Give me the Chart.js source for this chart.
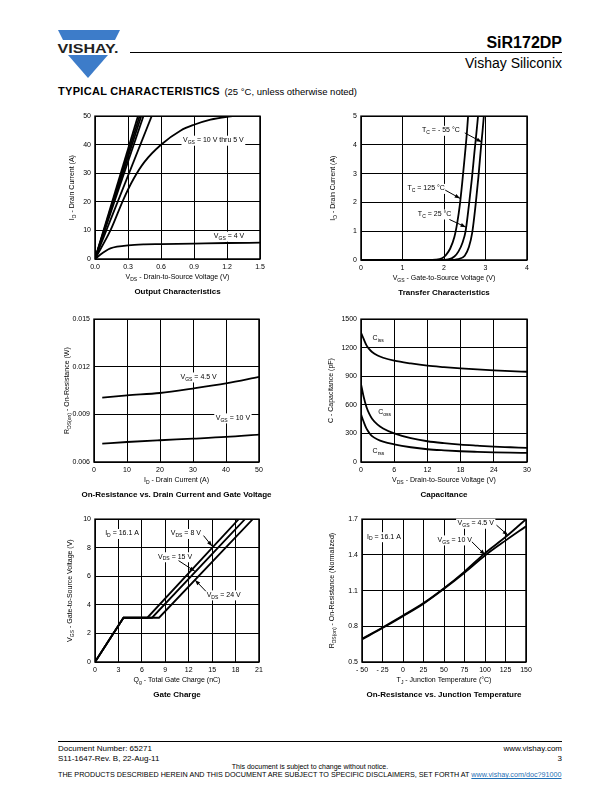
<!DOCTYPE html>
<html><head><meta charset="utf-8">
<script src="https://cdn.jsdelivr.net/npm/chart.js@4.4.1/dist/chart.umd.min.js"></script>
<style>
body{margin:0;width:612px;height:792px;position:relative;background:#fff;font-family:"Liberation Sans",Arial,Helvetica,sans-serif;overflow:hidden;color:#000}
.a{position:absolute;white-space:nowrap}
canvas{position:absolute}
</style></head><body>
<svg class="a" style="left:55px;top:28px" width="68" height="52" viewBox="0 0 68 52">
  <polygon points="3,2 65,2 60,12 8,12" fill="#3d7cc9"/>
  <text x="33" y="24.5" text-anchor="middle" font-family="Liberation Sans, Arial" font-weight="bold" font-size="13.5" textLength="61" lengthAdjust="spacingAndGlyphs" fill="#222">VISHAY.</text>
  <polygon points="13,27 53,27 33,50" fill="#3d7cc9"/>
</svg>
<div class="a" style="left:130px;top:52px;width:432px;height:1px;background:#000"></div>
<div class="a" style="right:50px;top:35px;font-size:16px;line-height:16px;font-weight:bold">SiR172DP</div>
<div class="a" style="right:50px;top:55.5px;font-size:14px;line-height:14px">Vishay Siliconix</div>
<div class="a" style="left:58px;top:84px;line-height:11px"><span style="font-size:11px;font-weight:bold;letter-spacing:0.3px">TYPICAL CHARACTERISTICS</span> <span style="font-size:9.5px">(25 °C, unless otherwise noted)</span></div>

<div class="a" style="left:58px;top:741px;width:504px;height:1px;background:#000"></div>
<div class="a" style="left:58px;top:745px;font-size:8px;line-height:8px">Document Number: 65271</div>
<div class="a" style="right:50px;top:745px;font-size:8px;line-height:8px">www.vishay.com</div>
<div class="a" style="left:58px;top:754.5px;font-size:8px;line-height:8px">S11-1647-Rev. B, 22-Aug-11</div>
<div class="a" style="right:50px;top:754.5px;font-size:8px;line-height:8px">3</div>
<div class="a" style="left:230px;width:160px;text-align:center;top:762.5px;font-size:7px;line-height:7px">This document is subject to change without notice.</div>
<div class="a" id="disc" style="left:58px;top:771px;font-size:7.2px;line-height:7px">THE PRODUCTS DESCRIBED HEREIN AND THIS DOCUMENT ARE SUBJECT TO SPECIFIC DISCLAIMERS, SET FORTH AT <span style="color:#1f6fb5;text-decoration:underline">www.vishay.com/doc?91000</span></div>

<script>
const FONT = '"Liberation Sans", Arial, Helvetica, sans-serif';

// ---------- Output Characteristics ----------
const outXTicks = [0, 0.3, 0.6, 0.9, 1.2, 1.5];
const outXLabels = ['0.0', '0.3', '0.6', '0.9', '1.2', '1.5'];
const outYTicks = [0, 10, 20, 30, 40, 50];
const outYLabels = ['0', '10', '20', '30', '40', '50'];
const outVgs10 = [[0, 0], [0.39, 50]];
const outVgs9 = [[0, 0], [0.405, 50]];
const outVgs8 = [[0, 0], [0.42, 50]];
const outVgs7 = [[0, 0], [0.44, 50]];
const outVgs6 = [[0, 0], [0.515, 50]];
const outVgs5 = [[0, 0], [0.14, 10], [0.26, 21], [0.35, 28], [0.45, 34], [0.6, 40], [0.78, 45], [0.9, 47], [1.05, 48.8], [1.2, 49.8], [1.25, 50]];
const outVgs4 = [[0, 0], [0.05, 1.6], [0.1, 2.9], [0.14, 3.7], [0.2, 4.3], [0.3, 4.8], [0.45, 5.1], [0.6, 5.2], [0.9, 5.4], [1.2, 5.6], [1.5, 5.7]];

// ---------- Transfer Characteristics ----------
const trXTicks = [0, 1, 2, 3, 4];
const trXLabels = ['0', '1', '2', '3', '4'];
const trYTicks = [0, 1, 2, 3, 4, 5];
const trYLabels = ['0', '1', '2', '3', '4', '5'];
const trTc125 = [[0, 0], [1.6, 0], [1.8, 0.01], [1.95, 0.06], [2.05, 0.18], [2.15, 0.4], [2.25, 0.8], [2.32, 1.3], [2.38, 1.9], [2.44, 2.7], [2.5, 3.6], [2.55, 4.4], [2.58, 5]];
const trTc25 = [[0, 0], [1.9, 0], [2.1, 0.02], [2.25, 0.12], [2.35, 0.3], [2.45, 0.62], [2.52, 1.0], [2.6, 1.9], [2.67, 2.8], [2.73, 3.7], [2.78, 4.4], [2.82, 5]];
const trTcM55 = [[0, 0], [2.1, 0], [2.35, 0.03], [2.5, 0.15], [2.6, 0.45], [2.68, 0.95], [2.76, 1.9], [2.83, 2.9], [2.89, 3.9], [2.93, 4.5], [2.96, 5]];

// ---------- On-Resistance vs. Drain Current ----------
const rdsXTicks = [0, 10, 20, 30, 40, 50];
const rdsXLabels = ['0', '10', '20', '30', '40', '50'];
const rdsYTicks = [0.006, 0.009, 0.012, 0.015];
const rdsYLabels = ['0.006', '0.009', '0.012', '0.015'];
const rdsId = [2.5, 10, 20, 30, 40, 50];
const rdsVgs45 = [0.01006, 0.0102, 0.01035, 0.01063, 0.01095, 0.01136];
const rdsVgs10 = [0.00716, 0.00726, 0.00737, 0.00747, 0.00758, 0.00773];

// ---------- Capacitance ----------
const capXTicks = [0, 6, 12, 18, 24, 30];
const capXLabels = ['0', '6', '12', '18', '24', '30'];
const capYTicks = [0, 300, 600, 900, 1200, 1500];
const capYLabels = ['0', '300', '600', '900', '1200', '1500'];
const capVds = [0, 0.5, 1, 1.5, 2, 3, 4, 6, 9, 12, 15, 18, 21, 24, 27, 30];
const capCiss = [1360, 1290, 1225, 1185, 1155, 1118, 1095, 1064, 1035, 1012, 997, 984, 973, 963, 955, 948];
const capCoss = [820, 680, 575, 505, 455, 392, 352, 300, 250, 218, 198, 183, 172, 162, 155, 148];
const capCrss = [500, 420, 350, 305, 272, 236, 213, 185, 155, 134, 122, 113, 107, 102, 98, 95];

// ---------- Gate Charge ----------
const gcXTicks = [0, 3, 6, 9, 12, 15, 18, 21];
const gcXLabels = ['0', '3', '6', '9', '12', '15', '18', '21'];
const gcYTicks = [0, 2, 4, 6, 8, 10];
const gcYLabels = ['0', '2', '4', '6', '8', '10'];
const gcVds8 = [[0, 0], [3.65, 3.1], [6.7, 3.1], [18.4, 10]];
const gcVds15 = [[0, 0], [3.65, 3.1], [7.3, 3.1], [19.2, 10]];
const gcVds24 = [[0, 0], [3.65, 3.1], [8.2, 3.1], [20.2, 10]];

// ---------- On-Resistance vs. Junction Temperature ----------
const tjXTicks = [-50, -25, 0, 25, 50, 75, 100, 125, 150];
const tjXLabels = ['- 50', '- 25', '0', '25', '50', '75', '100', '125', '150'];
const tjYTicks = [0.5, 0.8, 1.1, 1.4, 1.7];
const tjYLabels = ['0.5', '0.8', '1.1', '1.4', '1.7'];
const tjTemp = [-50, -25, 0, 25, 50, 75, 100, 125, 150];
const tjVgs45 = [0.695, 0.79, 0.89, 0.995, 1.12, 1.26, 1.415, 1.55, 1.70];
const tjVgs10 = [0.69, 0.785, 0.885, 0.99, 1.115, 1.25, 1.395, 1.52, 1.64];

// ---------- helpers ----------
function pairs(p) { return p.map(([x, y]) => ({x, y})); }
function zipXY(xs, ys) { return xs.map((x, i) => ({x, y: ys[i]})); }

function richWidth(ctx, parts, size, bold) {
  let w = 0;
  for (const [t, sub] of parts) {
    ctx.font = (bold ? 'bold ' : '') + (sub ? size * 0.72 : size) + 'px ' + FONT;
    w += ctx.measureText(t).width;
  }
  return w;
}
function drawRich(ctx, parts, x, y, size, align, bold) {
  const w = richWidth(ctx, parts, size, bold);
  let cx = align === 'center' ? x - w / 2 : align === 'right' ? x - w : x;
  ctx.textAlign = 'left';
  ctx.textBaseline = 'middle';
  for (const [t, sub] of parts) {
    ctx.font = (bold ? 'bold ' : '') + (sub ? size * 0.72 : size) + 'px ' + FONT;
    ctx.fillText(t, cx, y + (sub ? size * 0.32 : 0));
    cx += ctx.measureText(t).width;
  }
  return w;
}
function drawArrow(ctx, x1, y1, x2, y2) {
  ctx.beginPath(); ctx.moveTo(x1, y1); ctx.lineTo(x2, y2);
  ctx.lineWidth = 1; ctx.strokeStyle = '#000'; ctx.stroke();
  const a = Math.atan2(y2 - y1, x2 - x1), L = 5.5, W = 2;
  ctx.beginPath(); ctx.moveTo(x2, y2);
  ctx.lineTo(x2 - L * Math.cos(a) + W * Math.sin(a), y2 - L * Math.sin(a) - W * Math.cos(a));
  ctx.lineTo(x2 - L * Math.cos(a) - W * Math.sin(a), y2 - L * Math.sin(a) + W * Math.cos(a));
  ctx.closePath(); ctx.fillStyle = '#000'; ctx.fill();
}

const DECO = {};
const decoPlugin = {
  id: 'deco',
  beforeDatasetsDraw(chart) {
    const d = DECO[chart.canvas.id]; if (!d) return;
    const {ctx, chartArea: a, scales: {x, y}} = chart;
    ctx.save();
    ctx.strokeStyle = '#000'; ctx.lineWidth = 1.5;
    ctx.strokeRect(a.left, a.top, a.right - a.left, a.bottom - a.top);
    for (const l of d.labels || []) {
      const px = x.getPixelForValue(l.x), py = y.getPixelForValue(l.y);
      const w = richWidth(ctx, l.parts, 7);
      ctx.fillStyle = '#fff'; ctx.fillRect(px - 1.5, py - 4.5, w + 3, 10);
      ctx.fillStyle = '#000'; drawRich(ctx, l.parts, px, py, 7, 'left');
    }
    ctx.restore();
  },
  afterDraw(chart) {
    const d = DECO[chart.canvas.id]; if (!d) return;
    const {ctx, chartArea: a, scales: {x, y}} = chart;
    ctx.save();
    for (const ar of d.arrows || []) {
      drawArrow(ctx, x.getPixelForValue(ar[0]), y.getPixelForValue(ar[1]), x.getPixelForValue(ar[2]), y.getPixelForValue(ar[3]));
    }
    ctx.fillStyle = '#000';
    const cx = (a.left + a.right) / 2;
    drawRich(ctx, d.xTitle, cx, a.bottom + 18.5, 7, 'center');
    ctx.save();
    ctx.translate(a.left - d.yOff, (a.top + a.bottom) / 2);
    ctx.rotate(-Math.PI / 2);
    drawRich(ctx, d.yTitle, 0, 0, 7, 'center');
    ctx.restore();
    drawRich(ctx, [[d.title, 0]], cx, a.bottom + 32.5, 8, 'center', true);
    ctx.restore();
  }
};

const ML = 46, MT = 8, MR = 18, MB = 44;
function scaleCfg(ticks, labels, min, max, isX) {
  return {
    type: 'linear', min, max,
    afterBuildTicks: s => { s.ticks = ticks.map(v => ({value: v})); },
    afterFit: s => { if (isX) s.height = MB; else s.width = ML; },
    ticks: {
      callback: (v, i) => labels[i], autoSkip: false, maxRotation: 0,
      font: {size: 7, family: FONT}, color: '#000', padding: 4
    },
    grid: {color: '#000', lineWidth: 1, drawTicks: false},
    border: {display: false}
  };
}
function makeChart(id, box, xs, ys, datasets, deco) {
  const [L, T, R, B] = box;
  const W = (R - L) + ML + MR, H = (B - T) + MT + MB;
  const cv = document.createElement('canvas');
  cv.id = id; cv.width = W; cv.height = H;
  cv.style.left = (L - ML) + 'px'; cv.style.top = (T - MT) + 'px';
  cv.style.width = W + 'px'; cv.style.height = H + 'px';
  document.body.appendChild(cv);
  DECO[id] = deco;
  new Chart(cv, {
    type: 'line',
    data: {datasets: datasets.map(ds => Object.assign({
      borderColor: '#000', borderWidth: 1.8, pointRadius: 0, fill: false,
      tension: 0, cubicInterpolationMode: ds.curve ? 'monotone' : 'default'
    }, ds))},
    options: {
      responsive: false, animation: false, devicePixelRatio: 1,
      layout: {padding: {left: 0, top: MT, right: MR, bottom: 0}},
      scales: {x: scaleCfg(xs[0], xs[1], xs[2], xs[3], true), y: scaleCfg(ys[0], ys[1], ys[2], ys[3], false)},
      plugins: {legend: {display: false}, tooltip: {enabled: false}}
    },
    plugins: [decoPlugin]
  });
}

const VGS = s => [['V', 0], ['GS', 1], [s, 0]];
const VDS = s => [['V', 0], ['DS', 1], [s, 0]];

// 1. Output
makeChart('c1', [95, 116, 260, 259],
  [outXTicks, outXLabels, 0, 1.5], [outYTicks, outYLabels, 0, 50],
  [{data: pairs(outVgs10)}, {data: pairs(outVgs9)}, {data: pairs(outVgs8)}, {data: pairs(outVgs7)},
   {data: pairs(outVgs6)}, {data: pairs(outVgs5), curve: true}, {data: pairs(outVgs4), curve: true}],
  {xTitle: VDS(' - Drain-to-Source Voltage (V)'), yTitle: [['I', 0], ['D', 1], [' - Drain Current (A)', 0]], yOff: 23,
   title: 'Output Characteristics',
   labels: [{x: 0.80, y: 41.6, parts: VGS(' = 10 V thru 5 V')}, {x: 1.08, y: 8.0, parts: VGS(' = 4 V')}]});

// 2. Transfer
makeChart('c2', [361, 116, 527, 260],
  [trXTicks, trXLabels, 0, 4], [trYTicks, trYLabels, 0, 5],
  [{data: pairs(trTc125), curve: true}, {data: pairs(trTc25), curve: true}, {data: pairs(trTcM55), curve: true}],
  {xTitle: VGS(' - Gate-to-Source Voltage (V)'), yTitle: [['I', 0], ['D', 1], [' - Drain Current (A)', 0]], yOff: 28,
   title: 'Transfer Characteristics',
   labels: [{x: 1.47, y: 4.51, parts: [['T', 0], ['C', 1], [' = - 55 °C', 0]]},
            {x: 1.12, y: 2.49, parts: [['T', 0], ['C', 1], [' = 125 °C', 0]]},
            {x: 1.37, y: 1.60, parts: [['T', 0], ['C', 1], [' = 25 °C', 0]]}],
   arrows: [[2.50, 4.42, 2.91, 4.1], [2.03, 2.43, 2.39, 2.14], [2.13, 1.41, 2.53, 1.14]]});

// 3. On-resistance vs drain current
makeChart('c3', [94, 319, 259, 462],
  [rdsXTicks, rdsXLabels, 0, 50], [rdsYTicks, rdsYLabels, 0.006, 0.015],
  [{data: zipXY(rdsId, rdsVgs45), curve: true}, {data: zipXY(rdsId, rdsVgs10), curve: true}],
  {xTitle: [['I', 0], ['D', 1], [' - Drain Current (A)', 0]], yTitle: [['R', 0], ['DS(on)', 1], [' - On-Resistance (W)', 0]], yOff: 27,
   title: 'On-Resistance vs. Drain Current and Gate Voltage',
   labels: [{x: 26.2, y: 0.01136, parts: VGS(' = 4.5 V')}, {x: 36.9, y: 0.00878, parts: VGS(' = 10 V')}]});

// 4. Capacitance
makeChart('c4', [361, 319, 527, 462],
  [capXTicks, capXLabels, 0, 30], [capYTicks, capYLabels, 0, 1500],
  [{data: zipXY(capVds, capCiss), curve: true}, {data: zipXY(capVds, capCoss), curve: true}, {data: zipXY(capVds, capCrss), curve: true}],
  {xTitle: VDS(' - Drain-to-Source Voltage (V)'), yTitle: [['C - Capacitance (pF)', 0]], yOff: 30,
   title: 'Capacitance',
   labels: [{x: 2.1, y: 1300, parts: [['C', 0], ['iss', 1]]}, {x: 3.1, y: 520, parts: [['C', 0], ['oss', 1]]}, {x: 2.1, y: 116, parts: [['C', 0], ['rss', 1]]}]});

// 5. Gate charge
makeChart('c5', [95, 519, 259, 662],
  [gcXTicks, gcXLabels, 0, 21], [gcYTicks, gcYLabels, 0, 10],
  [{data: pairs(gcVds8)}, {data: pairs(gcVds15)}, {data: pairs(gcVds24)}],
  {xTitle: [['Q', 0], ['g', 1], [' - Total Gate Charge (nC)', 0]], yTitle: VGS(' - Gate-to-Source Voltage (V)'), yOff: 25,
   title: 'Gate Charge',
   labels: [{x: 1.3, y: 9.0, parts: [['I', 0], ['D', 1], [' = 16.1 A', 0]]},
            {x: 9.7, y: 9.0, parts: VDS(' = 8 V')},
            {x: 8.07, y: 7.37, parts: VDS(' = 15 V')},
            {x: 14.3, y: 4.7, parts: VDS(' = 24 V')}],
   arrows: [[13.9, 8.85, 15.0, 8.1], [10.7, 7.1, 12.8, 6.35], [14.2, 4.95, 12.8, 5.75]]});

// 6. On-resistance vs junction temperature
makeChart('c6', [362, 519, 526, 662],
  [tjXTicks, tjXLabels, -50, 150], [tjYTicks, tjYLabels, 0.5, 1.7],
  [{data: zipXY(tjTemp, tjVgs45), curve: true}, {data: zipXY(tjTemp, tjVgs10), curve: true}],
  {xTitle: [['T', 0], ['J', 1], [' - Junction Temperature (°C)', 0]], yTitle: [['R', 0], ['DS(on)', 1], [' - On-Resistance (Normalized)', 0]], yOff: 30,
   title: 'On-Resistance vs. Junction Temperature',
   labels: [{x: -43.9, y: 1.553, parts: [['I', 0], ['D', 1], [' = 16.1 A', 0]]},
            {x: 66.6, y: 1.666, parts: VGS(' = 4.5 V')},
            {x: 42.2, y: 1.526, parts: VGS(' = 10 V')}],
   arrows: [[114, 1.65, 128, 1.565], [84, 1.51, 100, 1.40]]});
</script>
</body></html>
